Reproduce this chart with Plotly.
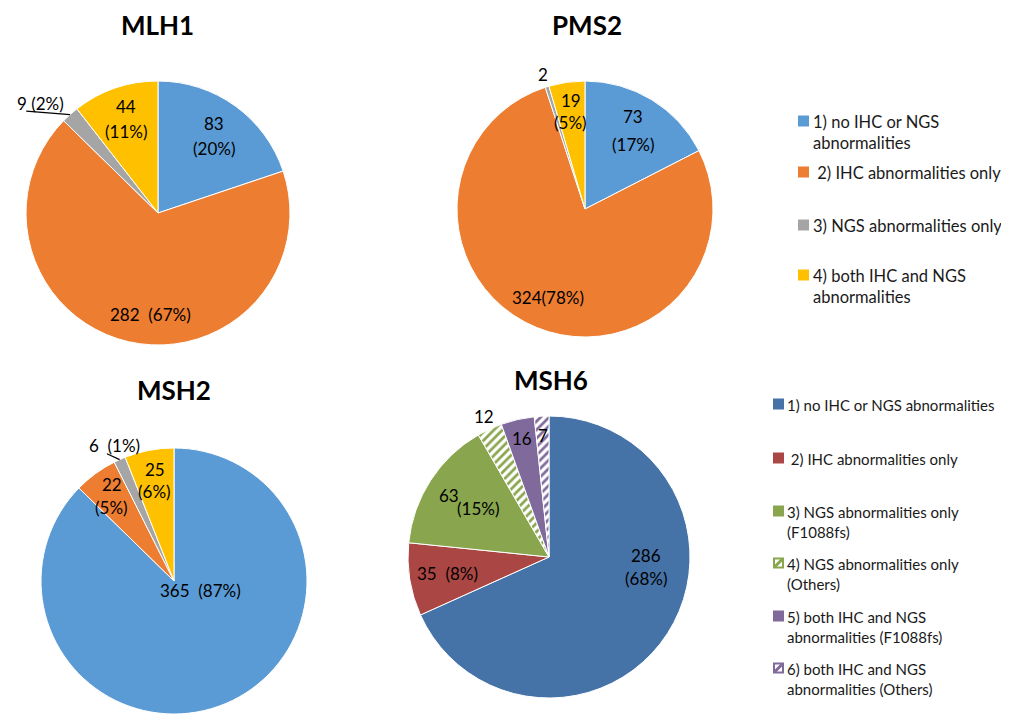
import math
import plotly.graph_objects as go

# page body has an 8px margin; figure is sized so it fills the 1009x715 window
OX, OY = 8, 8
W, H = 1009 - OX, 715 - OY
FONT = "Lato, Carlito, Calibri, Liberation Sans, Arial"

# ---------------- data ----------------
top_categories = ["1) no IHC or NGS abnormalities", "2) IHC abnormalities only",
                  "3) NGS abnormalities only", "4) both IHC and NGS abnormalities"]
top_legend_text = ["1) no IHC or NGS<br>abnormalities", " 2) IHC abnormalities only",
                   "3) NGS abnormalities only", "4) both IHC and NGS<br>abnormalities"]
top_colors = ["#5B9BD5", "#ED7D31", "#A5A5A5", "#FFC000"]

mlh1_values = [83, 282, 9, 44]
pms2_values = [73, 324, 2, 19]
msh2_values = [365, 22, 6, 25]

msh6_categories = ["1) no IHC or NGS abnormalities", "2) IHC abnormalities only",
                   "3) NGS abnormalities only (F1088fs)", "4) NGS abnormalities only (Others)",
                   "5) both IHC and NGS abnormalities (F1088fs)",
                   "6) both IHC and NGS abnormalities (Others)"]
msh6_legend_text = ["1) no IHC or NGS abnormalities", " 2) IHC abnormalities only",
                    "3) NGS abnormalities only<br>(F1088fs)", "4) NGS abnormalities only<br>(Others)",
                    "5) both IHC and NGS<br>abnormalities (F1088fs)",
                    "6) both IHC and NGS<br>abnormalities (Others)"]
msh6_values = [286, 35, 63, 12, 16, 7]
msh6_colors = ["#4572A7", "#AA4643", "#89A54E", "#89A54E", "#80699B", "#80699B"]
msh6_hatched = [False, False, False, True, False, True]

# ---------------- helpers ----------------
def px(x):
    return (x - OX) / W

def py(y):
    return 1 - (y - OY) / H

def dom(cx, cy, r):
    return dict(x=[px(cx - r), px(cx + r)], y=[py(cy + r), py(cy - r)])

LBL = dict(family=FONT, size=17, color="black")
fig = go.Figure()

def text_at(t, x, y):
    fig.add_annotation(text=t, x=px(x), y=py(y), xref="paper", yref="paper",
                       showarrow=False, xanchor="center", yanchor="middle", font=LBL)

def polar(cx, cy, r, fr, ang_deg):
    a = math.radians(ang_deg)
    return cx + fr * r * math.sin(a), cy - fr * r * math.cos(a)

def add_pie(values, labels, colors, center, r, label_style, patterns=None):
    cx, cy = center
    marker = dict(colors=colors, line=dict(color="white", width=1))
    if patterns is not None:
        marker["pattern"] = dict(
            shape=["/" if p else "" for p in patterns],
            fgcolor=colors,
            bgcolor=["white" if p else c for p, c in zip(patterns, colors)],
            size=6, solidity=0.45, fillmode="replace")
    fig.add_trace(go.Pie(
        values=values, labels=labels, sort=False, direction="clockwise", rotation=0,
        domain=dom(cx, cy, r), marker=marker, textinfo="none", showlegend=False,
        hoverinfo="label+value+percent"))

    # data labels (Excel style), placed along each slice bisector
    total = float(sum(values))
    cum = 0.0
    for v, st in zip(values, label_style):
        mid = (cum + v / 2.0) / total * 360.0
        cum += v
        ang = st.get("ang", mid)
        x, y = polar(cx, cy, r, st["fr"], ang)
        vs, ps = str(v), "(%d%%)" % round(100 * v / total)
        kind = st["kind"]
        if kind == "two":
            gap = st.get("gap", 22.5)
            dx1 = st.get("dx1", 0)
            text_at(vs, x + dx1 / 2.0, y - gap / 2.0)
            text_at(ps, x - dx1 / 2.0, y + gap / 2.0)
        elif kind == "one":
            text_at(vs + st.get("sep", " ") + ps, x, y)
        else:
            text_at(vs, x, y)
        if "leader" in st:
            ex, ey = polar(cx, cy, r, 1.0, mid)
            lx, ly = x + st["leader"][0], y + st["leader"][1]
            fig.add_shape(type="line", xref="paper", yref="paper",
                          x0=px(lx), y0=py(ly), x1=px(ex), y1=py(ey),
                          line=dict(color="black", width=1.2))

add_pie(mlh1_values, top_categories, top_colors, (158, 213), 132, [
    dict(kind="two", fr=0.72, gap=25),
    dict(kind="one", fr=0.77, ang=184, sep="  "),
    dict(kind="one", fr=1.22, ang=313, leader=(-14, 8)),
    dict(kind="two", fr=0.75, gap=25)])
add_pie(pms2_values, top_categories, top_colors, (585, 209), 128, [
    dict(kind="two", fr=0.72, gap=28),
    dict(kind="one", fr=0.75, sep=""),
    dict(kind="val", fr=1.1),
    dict(kind="two", fr=0.77)])
add_pie(msh2_values, top_categories, top_colors, (174, 581), 133, [
    dict(kind="one", fr=0.21, ang=109, sep="  "),
    dict(kind="two", fr=0.79),
    dict(kind="one", fr=1.11, ang=336.4, sep="  ", leader=(-8, 8)),
    dict(kind="two", fr=0.77)])
add_pie(msh6_values, msh6_categories, msh6_colors, (549, 557), 141, [
    dict(kind="two", fr=0.69, ang=96, gap=22.5),
    dict(kind="one", fr=0.73, sep="  "),
    dict(kind="two", fr=0.72, gap=13, dx1=-29),
    dict(kind="val", fr=1.1),
    dict(kind="val", fr=0.86),
    dict(kind="val", fr=0.86)], patterns=msh6_hatched)

# ---------------- titles ----------------
titles = [("MLH1", 157, 25), ("PMS2", 587, 25), ("MSH2", 174, 390), ("MSH6", 551, 380)]
for t, x, y in titles:
    fig.add_annotation(text="<b>%s</b>" % t, x=px(x), y=py(y), xref="paper", yref="paper",
                       showarrow=False, xanchor="center", yanchor="middle",
                       font=dict(family=FONT, size=26, color="black"))

# ---------------- legends (drawn manually) ----------------
def legend(texts, colors, hatched, sw_x, text_x, ys, fsize):
    for txt, col, h, yc in zip(texts, colors, hatched, ys):
        fig.add_shape(type="rect", xref="paper", yref="paper",
                      x0=px(sw_x), x1=px(sw_x + 11),
                      y0=py(yc + 5.5), y1=py(yc - 5.5),
                      fillcolor=col, line=dict(width=0))
        if h:
            fig.add_shape(type="rect", xref="paper", yref="paper",
                          x0=px(sw_x + 2), x1=px(sw_x + 9),
                          y0=py(yc + 3.5), y1=py(yc - 3.5),
                          fillcolor="white", line=dict(width=0))
            fig.add_shape(type="line", xref="paper", yref="paper",
                          x0=px(sw_x + 2), x1=px(sw_x + 9),
                          y0=py(yc + 3.5), y1=py(yc - 3.5),
                          line=dict(color=col, width=3))
        fig.add_annotation(text=txt, x=px(text_x), y=py(yc - fsize * 0.68),
                           xref="paper", yref="paper", showarrow=False,
                           xanchor="left", yanchor="top", align="left",
                           font=dict(family=FONT, size=fsize, color="#1a1a1a"))

legend(top_legend_text, top_colors, [False] * 4, 798, 811, [121, 172, 225, 275], 16.5)
legend(msh6_legend_text, msh6_colors, msh6_hatched, 773, 785,
       [404, 458, 511, 563, 616, 668], 15)

fig.update_layout(width=W, height=H, margin=dict(l=0, r=0, t=0, b=0),
                  paper_bgcolor="white", plot_bgcolor="white",
                  font=dict(family=FONT, size=16, color="black"))

fig.write_html("out.html")
